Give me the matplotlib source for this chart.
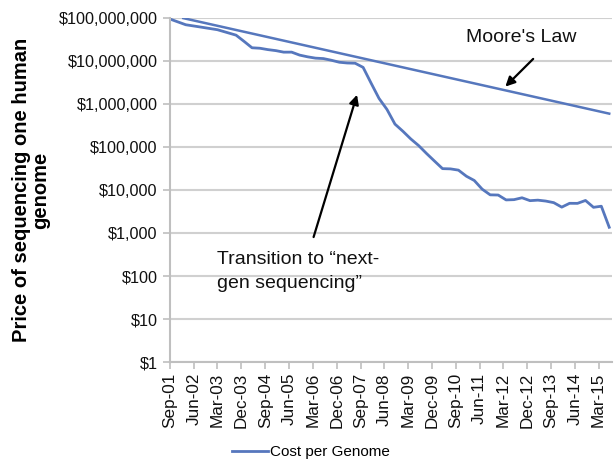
import matplotlib
matplotlib.use("Agg")
import matplotlib.pyplot as plt
import matplotlib.dates as mdates
import matplotlib.ticker as mticker
from datetime import date

plt.rcParams['font.family'] = ['Liberation Sans', 'DejaVu Sans']

# cost per genome (quarterly)
dates = ["2001-09", "2002-03", "2002-09", "2003-03", "2003-10", "2004-01", "2004-04",
         "2004-07", "2004-10", "2005-01", "2005-04", "2005-07", "2005-10", "2006-01",
         "2006-04", "2006-07", "2006-10", "2007-01", "2007-04", "2007-07", "2007-10",
         "2008-01", "2008-04", "2008-07", "2008-10", "2009-01", "2009-04", "2009-07",
         "2009-10", "2010-01", "2010-04", "2010-07", "2010-10", "2011-01", "2011-04",
         "2011-07", "2011-10", "2012-01", "2012-04", "2012-07", "2012-10", "2013-01",
         "2013-04", "2013-07", "2013-10", "2014-01", "2014-04", "2014-07", "2014-10",
         "2015-01", "2015-04", "2015-07"]
cost = [95263072, 70175437, 61448422, 53751684, 40153607, 28780376, 20442576,
        19934346, 18519312, 17534970, 16159699, 16180224, 13801124, 12585659,
        11732535, 11455315, 10474556, 9408739, 9047003, 8927342, 7147571,
        3063820, 1352982, 752080, 342502, 232735, 154714, 108065,
        70333, 46774, 31512, 31125, 29092, 20963, 16712,
        10497, 7743, 7666, 5901, 5985, 6618, 5671,
        5826, 5550, 5096, 4008, 4920, 4905, 5731,
        3970, 4211, 1363]

moore_dates = ["2002-02", "2015-07"]
moore_cost = [100000000, 600000]


def to_date(s):
    y, m = s.split("-")
    return date(int(y), int(m), 1)


x = [to_date(d) for d in dates]
mx = [to_date(d) for d in moore_dates]

blue = "#5677bd"

fig = plt.figure(figsize=(6.15, 4.65), dpi=100)
ax = fig.add_axes([0.2764, 0.2215, 0.7186, 0.7395])

ax.plot(x, cost, color=blue, lw=2.0, label="Cost per Genome")
ax.plot(mx, moore_cost, color=blue, lw=1.8)

ax.set_yscale("log")
ax.set_ylim(1, 1e8)
ax.set_xlim(date(2001, 9, 1), date(2015, 8, 1))

yt = [10 ** k for k in range(9)]
ax.yaxis.set_major_locator(mticker.FixedLocator(yt))
ax.yaxis.set_minor_locator(mticker.NullLocator())
ax.yaxis.set_major_formatter(mticker.FuncFormatter(lambda v, p: "${:,.0f}".format(v)))

xt = []
yy, mm = 2001, 9
while date(yy, mm, 1) < date(2015, 8, 1):
    xt.append(date(yy, mm, 1))
    mm += 9
    while mm > 12:
        mm -= 12
        yy += 1
ax.set_xticks(xt)
ax.xaxis.set_major_formatter(mdates.DateFormatter("%b-%y"))
plt.setp(ax.get_xticklabels(), rotation=90)

ax.tick_params(axis="both", color="#bfbfbf", length=5, width=1.2,
               labelcolor="#111111")
ax.tick_params(axis="y", labelsize=11.7, pad=4)
ax.tick_params(axis="x", labelsize=12.3, pad=3)
ax.grid(axis="y", color="#d0d0d0", lw=1.5)
ax.set_axisbelow(True)
for s in ["top", "right"]:
    ax.spines[s].set_visible(False)
for s in ["left", "bottom"]:
    ax.spines[s].set_color("#bfbfbf")
    ax.spines[s].set_linewidth(1.5)

ax.set_ylabel("Price of sequencing one human\ngenome", fontsize=14.5,
              fontweight="bold", labelpad=6, linespacing=1.0)

ax.annotate("", xy=(date(2012, 3, 1), 2.3e6), xytext=(date(2013, 3, 1), 1.25e7),
            arrowprops=dict(arrowstyle="-|>", color="black", lw=1.6,
                            mutation_scale=14))
ax.text(date(2011, 1, 1), 3.6e7, "Moore's Law", fontsize=14, va="center",
        color="#111111")

ax.annotate("", xy=(date(2007, 8, 1), 1.9e6), xytext=(date(2006, 3, 1), 700),
            arrowprops=dict(arrowstyle="-|>", color="black", lw=1.6,
                            mutation_scale=14))
ax.text(date(2003, 3, 1), 125, "Transition to \u201cnext-\ngen sequencing\u201d",
        fontsize=14, va="center", color="#111111", linespacing=1.55)

fig.legend(loc="center", bbox_to_anchor=(0.505, 0.028), frameon=False,
           fontsize=11, handlelength=2.4, handletextpad=0.1)

fig.savefig("out.png", dpi=100)
